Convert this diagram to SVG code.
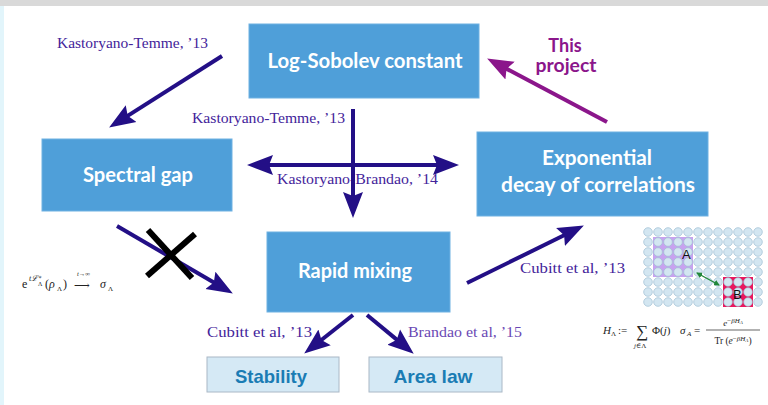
<svg xmlns="http://www.w3.org/2000/svg" width="768" height="405" viewBox="0 0 768 405">
<style>
.box{fill:#4f9fd9;stroke:#6fb1e2;stroke-width:1}
.lbox{fill:#d5e9f5;stroke:#aab8c6;stroke-width:1}
.bt{font-family:Lato,"Open Sans",sans-serif;font-weight:700;font-size:20px;fill:#ffffff;text-anchor:middle}
.lt{font-family:"Liberation Sans",Arial,sans-serif;font-weight:700;font-size:19px;fill:#1a7cb4;text-anchor:middle}
.cite{font-family:"Liberation Serif","DejaVu Serif",serif;font-size:15.5px;fill:#43239a}
.cite2{fill:#6a48b4}
.arr{stroke:#230f86;stroke-width:4;fill:none}
.parr{stroke:#8b168b;stroke-width:4;fill:none}
.math{font-family:"Liberation Serif","DejaVu Serif",serif;fill:#222}
</style>
<defs>
<marker id="ah" markerUnits="userSpaceOnUse" markerWidth="26" markerHeight="22" refX="13" refY="11" orient="auto">
<path d="M0,1 L26,11 L0,21 L4,11 z" fill="#230f86"/>
</marker>
<marker id="ahs" markerUnits="userSpaceOnUse" markerWidth="26" markerHeight="22" refX="13" refY="11" orient="auto-start-reverse">
<path d="M0,1 L26,11 L0,21 L4,11 z" fill="#230f86"/>
</marker>
<marker id="ahp" markerUnits="userSpaceOnUse" markerWidth="26" markerHeight="22" refX="13" refY="11" orient="auto">
<path d="M0,1 L26,11 L0,21 L4,11 z" fill="#8b168b"/>
</marker>
<marker id="ag" markerUnits="userSpaceOnUse" markerWidth="6" markerHeight="6" refX="5" refY="3" orient="auto-start-reverse">
<path d="M0,0 L6,3 L0,6 z" fill="#22883a"/>
</marker>
<pattern id="dots" patternUnits="userSpaceOnUse" x="643" y="227" width="10" height="10">
<circle cx="5" cy="5" r="4.3" fill="#d3e6f1" stroke="#9dbdd2" stroke-width="0.7"/>
</pattern>
</defs>

<rect x="0" y="0" width="768" height="405" fill="#ffffff"/>
<rect x="0" y="0" width="768" height="6" fill="#d9d9d9"/>
<rect x="0" y="6" width="4" height="399" fill="#e2f5fb"/>

<g id="log-sobolev">
<rect class="box" x="249" y="24" width="230" height="74"/>
<text class="bt" x="365" y="68" textLength="195" lengthAdjust="spacingAndGlyphs">Log-Sobolev constant</text>
</g>
<g id="spectral-gap">
<rect class="box" x="42" y="139" width="190" height="72"/>
<text class="bt" x="138" y="182" textLength="110" lengthAdjust="spacingAndGlyphs">Spectral gap</text>
</g>
<g id="exp-decay">
<rect class="box" x="477" y="132" width="231" height="84"/>
<text class="bt" x="597" y="165" textLength="110" lengthAdjust="spacingAndGlyphs">Exponential</text>
<text class="bt" x="598" y="192" textLength="194" lengthAdjust="spacingAndGlyphs">decay of correlations</text>
</g>
<g id="rapid-mixing">
<rect class="box" x="267" y="232" width="183" height="80"/>
<text class="bt" x="355" y="278" textLength="114" lengthAdjust="spacingAndGlyphs">Rapid mixing</text>
</g>
<g id="stability">
<rect class="lbox" x="207" y="357" width="132" height="35"/>
<text class="lt" x="271" y="383" textLength="72" lengthAdjust="spacingAndGlyphs">Stability</text>
</g>
<g id="area-law">
<rect class="lbox" x="369" y="357" width="133" height="35"/>
<text class="lt" x="433" y="383" textLength="79" lengthAdjust="spacingAndGlyphs">Area law</text>
</g>

<g id="this-project-label">
<text x="565" y="52" font-family="Lato,'Open Sans',sans-serif" font-weight="700" font-size="18" fill="#8b168b" text-anchor="middle">This</text>
<text x="566" y="72" font-family="Lato,'Open Sans',sans-serif" font-weight="700" font-size="18" fill="#8b168b" text-anchor="middle" textLength="61" lengthAdjust="spacingAndGlyphs">project</text>
</g>

<g id="connector-labels">
<text class="cite" x="57" y="48" textLength="151" lengthAdjust="spacingAndGlyphs">Kastoryano-Temme, ’13</text>
<text class="cite" x="192" y="123" textLength="153" lengthAdjust="spacingAndGlyphs">Kastoryano-Temme, ’13</text>
<text class="cite" x="277" y="184" textLength="161" lengthAdjust="spacingAndGlyphs">Kastoryano-Brandao, ’14</text>
<text class="cite" x="520" y="273" textLength="105" lengthAdjust="spacingAndGlyphs">Cubitt et al, ’13</text>
<text class="cite" x="207" y="337" textLength="105" lengthAdjust="spacingAndGlyphs">Cubitt et al, ’13</text>
<text class="cite cite2" x="408" y="337" textLength="114" lengthAdjust="spacingAndGlyphs">Brandao et al, ’15</text>
</g>

<g id="connectors">
<line class="arr" x1="222" y1="56" x2="120.1" y2="120.6" marker-end="url(#ah)"/>
<line class="arr" x1="353" y1="109" x2="353" y2="205" marker-end="url(#ah)"/>
<line class="arr" x1="260" y1="165" x2="446" y2="165" marker-start="url(#ahs)" marker-end="url(#ahs)"/>
<line class="arr" x1="117" y1="226" x2="221.6" y2="287" marker-end="url(#ah)"/>
<line class="arr" x1="467" y1="283" x2="572.2" y2="231.3" marker-end="url(#ah)"/>
<line class="parr" x1="607" y1="122" x2="498.6" y2="64.6" marker-end="url(#ahp)"/>
<line class="arr" x1="353" y1="315" x2="314.4" y2="345.5" marker-end="url(#ah)"/>
<line class="arr" x1="367" y1="315" x2="403.7" y2="345.4" marker-end="url(#ah)"/>
</g>

<g id="cross">
<line x1="148" y1="230" x2="192" y2="278" stroke="#000" stroke-width="6"/>
<line x1="195" y1="234" x2="147" y2="276" stroke="#000" stroke-width="6"/>
</g>

<g id="formula-left" class="math">
<text x="22" y="288" font-size="12">e</text>
<text x="29" y="281" font-size="8" font-style="italic">tℒ</text>
<text x="38" y="279" font-size="6">∗</text>
<text x="38" y="286" font-size="6">Λ</text>
<text x="45" y="288" font-size="12">(<tspan font-style="italic">ρ</tspan></text>
<text x="57" y="291" font-size="7">Λ</text>
<text x="63" y="288" font-size="12">)</text>
<text x="77" y="276" font-size="6.5" font-style="italic">t→∞</text>
<text x="74" y="289" font-size="11" font-family="DejaVu Serif,serif">⟶</text>
<text x="100" y="288" font-size="12" font-style="italic">σ</text>
<text x="108" y="291" font-size="7">Λ</text>
</g>

<g id="lattice">
<rect x="653" y="237" width="40" height="40" fill="#c7a3ef"/>
<rect x="723" y="277" width="30" height="30" fill="#e8185f"/>
<rect x="643" y="227" width="120" height="80" fill="url(#dots)"/>
<text x="682" y="259" font-family="'Liberation Sans',Arial,sans-serif" font-size="13" fill="#111">A</text>
<text x="733" y="299" font-family="'Liberation Sans',Arial,sans-serif" font-size="13" fill="#111">B</text>
<line x1="697" y1="273" x2="719" y2="285" stroke="#22883a" stroke-width="1.4" marker-start="url(#ag)" marker-end="url(#ag)"/>
</g>

<g id="formula-right" class="math">
<text x="603" y="334" font-size="11" font-style="italic">H</text>
<text x="611" y="336" font-size="7">Λ</text>
<text x="618" y="334" font-size="11">:=</text>
<text x="636" y="337" font-size="17">∑</text>
<text x="634" y="348" font-size="7" font-style="italic">j<tspan font-style="normal">∈Λ</tspan></text>
<text x="652" y="334" font-size="11">Φ(<tspan font-style="italic">j</tspan>)</text>
<text x="680" y="334" font-size="11" font-style="italic">σ</text>
<text x="687" y="336" font-size="7" font-style="italic">A</text>
<text x="694" y="334" font-size="11">=</text>
<text x="733" y="326" font-size="9" text-anchor="middle"><tspan font-style="italic">e</tspan><tspan dy="-3" font-size="7">−<tspan font-style="italic">βH</tspan></tspan><tspan dy="1" font-size="5" font-style="italic">A</tspan></text>
<line x1="706" y1="330" x2="760" y2="330" stroke="#222" stroke-width="0.7"/>
<text x="733" y="344" font-size="9.5" text-anchor="middle">Tr (<tspan font-style="italic">e</tspan><tspan dy="-3" font-size="7">−<tspan font-style="italic">βH</tspan></tspan><tspan dy="1" font-size="5" font-style="italic">A</tspan><tspan dy="2">)</tspan></text>
</g>
</svg>
